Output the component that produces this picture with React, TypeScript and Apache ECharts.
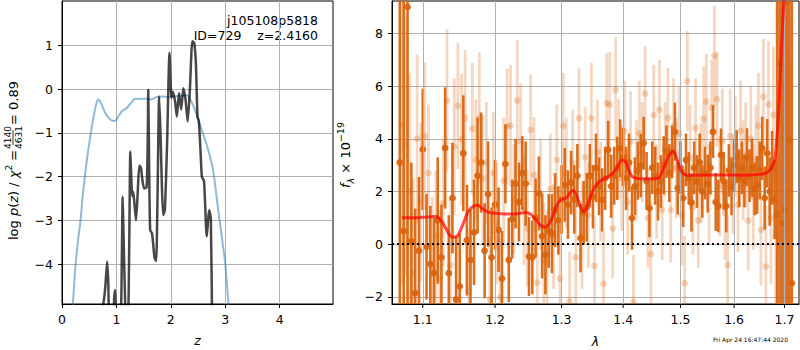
import React, { useEffect, useRef } from 'react';
import * as echarts from 'echarts';

const FONT = 'DejaVu Sans';

// ---------- Left panel: redshift probability ----------
const pzZ = [0.70, 0.755, 0.78, 0.80, 0.83, 0.85, 0.87, 0.93, 0.96, 0.975, 0.99, 1.03, 1.08, 1.10, 1.115, 1.13, 1.155, 1.18, 1.21, 1.235,
  1.255, 1.27, 1.29, 1.31, 1.33, 1.36, 1.39, 1.42, 1.45, 1.48, 1.51, 1.555, 1.575, 1.585, 1.60, 1.62, 1.655, 1.70, 1.73, 1.755,
  1.785, 1.81, 1.835, 1.86, 1.89, 1.93, 1.975, 2.01, 2.04, 2.08, 2.11, 2.15, 2.19, 2.23, 2.27, 2.31, 2.35, 2.395, 2.43, 2.46,
  2.49, 2.515, 2.545, 2.57, 2.61, 2.66, 2.69, 2.705, 2.735, 2.76];
const pzLogP = [-5.6, -4.95, -4.72, -4.45, -3.94, -4.4, -5.3, -5.4, -4.75, -4.59, -5.1, -5.6, -5.3, -3.8, -2.46, -3.3, -4.6, -5.5, -5.5, -3.6,
  -1.43, -1.9, -2.45, -2.35, -2.6, -3.0, -2.4, -1.75, -1.8, -2.1, -2.27, -2.25, -1.2, -0.02, -1.6, -3.22, -3.3, -3.85, -3.93, -2.5,
  -0.17, -1.0, -2.2, -2.88, -2.76, -1.3, 0.82, -0.2, -0.06, -0.3, -0.63, -0.09, -0.47, 0.02, -0.24, -0.74, -0.02, 1.09, 1.05, 0.6,
  -0.63, -0.74, -1.4, -2.0, -2.11, -3.37, -2.92, -2.77, -2.95, -5.6];

const priorZ = [0.15, 0.20, 0.25, 0.30, 0.34, 0.38, 0.42, 0.47, 0.53, 0.57, 0.61, 0.64, 0.67, 0.70, 0.75, 0.80, 0.85, 0.90, 0.96, 1.00,
  1.05, 1.10, 1.20, 1.28, 1.34, 1.45, 1.55, 1.62, 1.68, 1.75, 1.85, 1.95, 2.05, 2.15, 2.25, 2.31, 2.36, 2.42, 2.50, 2.57,
  2.63, 2.70, 2.75, 2.80, 2.84, 2.88, 2.92, 2.96, 3.00, 3.03, 3.06, 3.10];
const priorLogP = [-6.0, -4.91, -4.0, -3.4, -3.0, -2.45, -2.0, -1.5, -1.0, -0.7, -0.45, -0.3, -0.24, -0.28, -0.42, -0.56, -0.65, -0.71, -0.73, -0.7,
  -0.6, -0.51, -0.42, -0.3, -0.23, -0.22, -0.22, -0.24, -0.22, -0.18, -0.17, -0.18, -0.17, -0.16, -0.15, -0.15, -0.25, -0.4, -0.68, -0.95,
  -1.16, -1.45, -1.69, -2.05, -2.46, -2.85, -3.22, -3.6, -3.98, -4.45, -4.91, -5.5];

const leftXTicks = [0, 1, 2, 3, 4];
const leftYTicks = [-4, -3, -2, -1, 0, 1];

// ---------- Right panel: spectrum ----------
const darkLam = [1.070, 1.075, 1.080, 1.085, 1.090, 1.095, 1.100, 1.105, 1.110, 1.115,
  1.120, 1.125, 1.130, 1.135, 1.140, 1.145, 1.150, 1.155, 1.160, 1.165,
  1.170, 1.175, 1.180, 1.185, 1.190, 1.195, 1.200, 1.205, 1.210, 1.215,
  1.220, 1.225, 1.230, 1.235, 1.240, 1.245, 1.250, 1.255, 1.260, 1.265,
  1.270, 1.275, 1.280, 1.285, 1.290, 1.295, 1.300, 1.305, 1.310, 1.315,
  1.320, 1.325, 1.330, 1.335, 1.340, 1.345, 1.350, 1.355, 1.360, 1.365,
  1.370, 1.375, 1.380, 1.385, 1.390, 1.395, 1.400, 1.405, 1.410, 1.415,
  1.420, 1.425, 1.430, 1.435, 1.440, 1.445, 1.450, 1.455, 1.460, 1.465,
  1.470, 1.475, 1.480, 1.485, 1.490, 1.495, 1.500, 1.505, 1.510, 1.515,
  1.520, 1.525, 1.530, 1.535, 1.540, 1.545, 1.550, 1.555, 1.560, 1.565,
  1.570, 1.575, 1.580, 1.585, 1.590, 1.595, 1.600, 1.605, 1.610, 1.615,
  1.620, 1.625, 1.630, 1.635, 1.640, 1.645, 1.650, 1.655, 1.660, 1.665,
  1.670, 1.675, 1.680, 1.685, 1.690, 1.695, 1.700, 1.705, 1.710, 1.715];
const darkFlux = [3.1, 0.5, 9.0, 0.1, -1.85, -0.25, 3.6, -0.1, -0.75, -1.1,
  0.9, -0.5, 3.65, -1.1, 1.75, -2.1, -1.6, 3.45, 0.15, -0.6,
  0.45, 2.6, 3.1, -0.25, 1.9, -0.5, 1.5, 0.55, -1.3, 3.05,
  -0.6, 0.95, 2.3, 1.6, 2.7, 2.3, -0.47, -0.5, 1.0, 1.93,
  0.3, -0.4, 0.5, 0.4, 1.3, 0.9, 1.7, 2.25, 1.5, 2.34,
  1.7, 2.6, 0.23, 1.2, 1.4, 2.6, 1.8, 2.9, 2.2, 1.68,
  2.5, 3.58, 2.2, 2.6, 2.88, 3.64, 3.3, 2.5, 3.1, 0.99,
  2.2, 2.79, 2.98, 3.83, 2.4, 1.37, 2.9, 2.6, 2.0, 2.38,
  3.0, 3.51, 2.7, 3.5, 4.27, 2.13, 2.9, 1.75, 3.2, 2.5,
  1.58, 2.9, 2.38, 3.1, 2.0, 2.7, 2.3, 2.9, 4.27, 1.6,
  1.45, 3.39, 2.4, 1.45, 2.8, 2.2, 3.0, 3.32, 2.5, 2.9,
  2.4, 3.3, 2.6, 2.9, 2.1, 2.25, 2.8, 3.64, 1.75, 3.45,
  2.0, 2.9, 1.7, 1.14, 6.87, 0.8, 1.3, 9.2, 3.96, -1.48];
const darkErr = [14, 14, 14, 3.0, 3.2, 2.8,
  2.3, 2.0, 2.2, 2.1, 2.4, 2.0, 2.3, 2.2, 2.1, 2.4, 2.0, 2.2, 2.1, 1.9, 2.0, 2.2, 1.9, 1.8, 2.0, 1.9,
  1.7, 1.6, 1.8, 1.5, 1.6, 1.5, 1.7, 1.5, 1.4, 1.6, 1.5, 1.4, 1.5, 1.4, 1.6, 1.5, 1.4, 1.5, 1.4, 1.3,
  1.3, 1.4, 1.3, 1.2, 1.3, 1.2, 1.3, 1.2, 1.3, 1.2, 1.2, 1.3, 1.1, 1.2, 1.2, 1.1, 1.2, 1.1, 1.2, 1.1,
  1.1, 1.2, 1.1, 1.2, 1.1, 1.1, 1.2, 1.0, 1.1, 1.1, 1.0, 1.1, 1.1, 1.0, 1.1, 1.0, 1.1, 1.0, 1.1, 1.0,
  1.0, 1.1, 1.0, 1.0, 1.1, 1.0, 1.0, 1.1, 1.0, 1.0, 1.1, 1.0, 1.0, 1.1, 1.0, 1.0, 1.1, 1.0, 1.0, 1.1,
  1.0, 1.0, 1.1, 1.0, 1.0, 1.1, 1.0, 1.1, 1.0, 1.1, 1.1, 1.2, 1.2, 1.3, 1.3, 1.4, 1.5,
  10, 12, 12, 14, 14, 14, 14];

const lightLam = [1.0725, 1.0775, 1.0825, 1.0875, 1.0925, 1.0975,
  1.1025, 1.1075, 1.1125, 1.1175, 1.1225, 1.1275, 1.1325, 1.1375, 1.1425, 1.1475,
  1.1525, 1.1575, 1.1625, 1.1675, 1.1725, 1.1775, 1.1825, 1.1875, 1.1925, 1.1975,
  1.2025, 1.2075, 1.2125, 1.2175, 1.2225, 1.2275, 1.2325, 1.2375, 1.2425, 1.2475,
  1.2525, 1.2575, 1.2625, 1.2675, 1.2725, 1.2775, 1.2825, 1.2875, 1.2925, 1.2975,
  1.3025, 1.3075, 1.3125, 1.3175, 1.3225, 1.3275, 1.3325, 1.3375, 1.3425, 1.3475,
  1.3525, 1.3575, 1.3625, 1.3675, 1.3725, 1.3775, 1.3825, 1.3875, 1.3925, 1.3975,
  1.4025, 1.4075, 1.4125, 1.4175, 1.4225, 1.4275, 1.4325, 1.4375, 1.4425, 1.4475,
  1.4525, 1.4575, 1.4625, 1.4675, 1.4725, 1.4775, 1.4825, 1.4875, 1.4925, 1.4975,
  1.5025, 1.5075, 1.5125, 1.5175, 1.5225, 1.5275, 1.5325, 1.5375, 1.5425, 1.5475,
  1.5525, 1.5575, 1.5625, 1.5675, 1.5725, 1.5775, 1.5825, 1.5875, 1.5925, 1.5975,
  1.6025, 1.6075, 1.6125, 1.6175, 1.6225, 1.6275, 1.6325, 1.6375, 1.6425, 1.6475,
  1.6525, 1.6575, 1.6625, 1.6675, 1.6725, 1.6775, 1.6825, 1.6875, 1.6925, 1.6975,
  1.7025, 1.7075, 1.7125];
const lightFlux = [4.5, 3.8, 2.0, -1.1, 4.0, 1.6,
  4.1, 2.7, -0.9, 0.3, -1.3, 1.56, 5.45, -0.8, 3.7, 5.25,
  3.98, 4.78, -1.8, 4.38, 3.2, 4.78, 2.5, 3.1, -2.1, 2.7,
  0.8, -2.0, 2.4, 4.46, 4.5, 1.7, 5.45, 3.9, 1.3, 0.6,
  4.34, 2.63, -1.46, 1.9, -0.6, -0.7, 2.1, 0.3, 3.2, -1.3,
  4.5, 2.7, -2.18, 3.1, -0.5, 4.78, 0.3, 3.3, 1.1, 4.78,
  -0.82, 3.5, 2.0, -1.5, 5.35, 5.3, 0.6, 5.86, 3.6, 2.5,
  4.3, 1.6, 3.9, -2.2, 2.8, 4.2, 3.5, 5.71, 1.0, -0.37,
  4.9, 2.0, 5.1, 1.3, 3.6, 4.8, 1.3, 4.5, 2.9, 4.2,
  1.1, -1.48, 6.19, 3.3, 1.4, 4.4, 0.9, 2.7, 4.75, 5.41,
  1.9, 5.2, 7.15, 5.5, 2.2, 3.9, 1.2, -0.79, 4.1, 2.3,
  3.7, 1.5, 4.3, 2.8, 3.4, 0.9, 4.0, 1.8, 3.2, 4.5,
  0.54, 5.6, -0.85, 5.3, 1.0, 4.9, 0.3, 2.7, 8.5, 5.5,
  4.34, 3.0, 2.0];
const lightErr = [6, 5, 4.5, 3.6, 3.2, 3.0,
  2.8, 2.6, 2.7, 2.5, 2.6, 2.4, 2.7, 2.5, 2.6, 2.4, 2.5, 2.6, 2.4, 2.5, 2.3, 2.5, 2.4, 2.3, 2.4, 2.3,
  2.3, 2.2, 2.4, 2.2, 2.3, 2.1, 2.3, 2.2, 2.1, 2.2, 2.1, 2.2, 2.0, 2.1, 2.2, 2.0, 2.1, 2.0, 2.1, 2.0,
  2.0, 2.1, 1.9, 2.0, 2.1, 1.9, 2.0, 1.9, 2.0, 2.1, 1.9, 2.0, 1.9, 2.0, 1.9, 2.0, 1.9, 2.0, 1.9, 2.0,
  1.9, 2.0, 1.9, 1.8, 1.9, 2.0, 1.9, 1.8, 1.9, 2.0, 1.9, 1.8, 1.9, 1.9, 1.8, 1.9, 2.0, 1.8, 1.9, 1.8,
  1.9, 1.8, 1.9, 2.0, 1.8, 1.9, 1.8, 1.9, 2.0, 1.8, 1.9, 1.8, 1.9, 1.8, 1.9, 2.0, 1.8, 1.9, 1.8, 1.9,
  1.9, 1.8, 1.9, 1.9, 2.0, 1.9, 2.0, 2.0, 2.1, 2.0, 2.1, 2.2, 2.3, 2.4, 2.5, 2.6, 2.8, 3.0, 3.2, 3.5,
  4.0, 4.5, 5.0];

const modelLam = [1.073, 1.085, 1.100, 1.110, 1.117, 1.124, 1.131, 1.136, 1.141, 1.147, 1.154, 1.161, 1.168, 1.175, 1.182, 1.190,
  1.200, 1.215, 1.230, 1.245, 1.252, 1.260, 1.266, 1.273, 1.279, 1.286, 1.293, 1.300, 1.307, 1.312, 1.317, 1.323,
  1.329, 1.335, 1.341, 1.348, 1.357, 1.365, 1.374, 1.385, 1.392, 1.398, 1.403, 1.408, 1.414, 1.422, 1.440, 1.455,
  1.463, 1.470, 1.478, 1.486, 1.491, 1.497, 1.504, 1.513, 1.540, 1.580, 1.620, 1.652, 1.662, 1.669, 1.675, 1.680,
  1.684, 1.688, 1.692, 1.696, 1.700, 1.704];
const modelFlux = [1.0, 1.0, 1.02, 1.04, 1.05, 0.92, 0.6, 0.35, 0.26, 0.32, 0.72, 1.2, 1.42, 1.48, 1.35, 1.22,
  1.17, 1.15, 1.15, 1.2, 1.15, 0.95, 0.75, 0.64, 0.72, 1.05, 1.5, 1.7, 1.75, 1.9, 2.04, 1.9,
  1.5, 1.24, 1.45, 1.95, 2.3, 2.45, 2.55, 2.75, 3.0, 3.2, 3.15, 2.9, 2.6, 2.5, 2.48, 2.48,
  2.55, 2.9, 3.3, 3.52, 3.4, 3.0, 2.7, 2.62, 2.62, 2.63, 2.62, 2.65, 2.7, 2.78, 2.95, 3.2,
  3.9, 5.0, 6.7, 8.3, 9.6, 11.0];

const rightXTicks = [1.1, 1.2, 1.3, 1.4, 1.5, 1.6, 1.7];
const rightYTicks = [-2, 0, 2, 4, 6, 8];
const RIGHT_YMIN = -2.27;

const ORANGE = '#d9650f';
const GRIDC = '#b0b0b0';

const fmtMinus = (v: number) => (v < 0 ? '\u2212' + Math.abs(v) : String(v));

function errRender(color: string, alpha: number, lw: number, r: number) {
  return (params: any, api: any) => {
    const x = api.value(0);
    const y = api.value(1);
    const e = api.value(2);
    const p = api.coord([x, y]);
    const lo = api.coord([x, y - e]);
    const hi = api.coord([x, y + e]);
    return {
      type: 'group',
      children: [
        { type: 'line', shape: { x1: p[0], y1: lo[1], x2: p[0], y2: hi[1] }, style: { stroke: color, lineWidth: lw, opacity: alpha } },
        { type: 'circle', shape: { cx: p[0], cy: p[1], r }, style: { fill: color, opacity: alpha } },
      ],
    };
  };
}

function tickRender(params: any, api: any) {
  const p = api.coord([api.value(0), RIGHT_YMIN]);
  return { type: 'line', shape: { x1: p[0], y1: p[1], x2: p[0], y2: p[1] + 4 }, style: { stroke: '#000', lineWidth: 1 } };
}

function txt(x: number, y: number, text: string, size: number, align: string, extra: any = {}) {
  return {
    type: 'text', x, y,
    style: {
      text, fontSize: size, fontFamily: FONT, fill: '#000',
      align, textAlign: align, verticalAlign: 'middle', textVerticalAlign: 'middle', ...extra,
    },
  };
}

export default function App() {
  const ref = useRef<HTMLDivElement>(null);
  useEffect(() => {
    if (!ref.current) return;
    const chart = echarts.init(ref.current, undefined, { renderer: 'svg' });
    const axisLine = { show: true, onZero: false, lineStyle: { color: '#000', width: 1 } };
    const tick = { show: true, length: 4, lineStyle: { color: '#000', width: 1 } };
    const split = { show: true, lineStyle: { color: GRIDC, width: 1 } };
    const lbl = { color: '#000', fontSize: 12.5, fontFamily: FONT };
    const option: any = {
      animation: false,
      textStyle: { fontFamily: FONT },
      grid: [
        { left: 62, top: 1, width: 271, height: 303, show: true, borderColor: '#000', borderWidth: 1, outerBoundsMode: 'none', containLabel: false },
        { left: 392, top: 1, width: 407, height: 303, show: true, borderColor: '#000', borderWidth: 1, outerBoundsMode: 'none', containLabel: false },
      ],
      xAxis: [
        {
          type: 'value', gridIndex: 0, min: 0, max: 4.98, axisLine, splitLine: split,
          axisTick: { ...tick, customValues: leftXTicks },
          axisLabel: { ...lbl, margin: 9, customValues: leftXTicks },
        },
        {
          type: 'log', gridIndex: 1, min: 1.06, max: 1.73, axisLine,
          axisTick: { show: false }, axisLabel: { show: false }, splitLine: { show: false },
        },
      ],
      yAxis: [
        {
          type: 'value', gridIndex: 0, min: -4.91, max: 2.01, axisLine, splitLine: split,
          axisTick: { ...tick, customValues: leftYTicks },
          axisLabel: { ...lbl, margin: 9, customValues: leftYTicks, formatter: fmtMinus },
        },
        {
          type: 'value', gridIndex: 1, min: RIGHT_YMIN, max: 9.23, axisLine, splitLine: split,
          axisTick: { ...tick, customValues: rightYTicks },
          axisLabel: { ...lbl, margin: 9, customValues: rightYTicks, formatter: fmtMinus },
        },
      ],
      series: [
        {
          type: 'line', xAxisIndex: 0, yAxisIndex: 0, showSymbol: false, smooth: 0.3, z: 2,
          data: priorZ.map((z, i) => [z, priorLogP[i]]),
          lineStyle: { color: 'rgba(31,119,180,0.5)', width: 2 },
        },
        {
          type: 'line', xAxisIndex: 0, yAxisIndex: 0, showSymbol: false, smooth: 0.2, z: 3,
          data: pzZ.map((z, i) => [z, pzLogP[i]]),
          lineStyle: { color: 'rgba(0,0,0,0.72)', width: 2.5 },
        },
        {
          type: 'line', xAxisIndex: 1, yAxisIndex: 1, data: [], z: 1, silent: true,
          markLine: {
            silent: true, symbol: ['none', 'none'], animation: false,
            lineStyle: { color: GRIDC, width: 1, type: 'solid' },
            label: { show: true, position: 'start', distance: 9, ...lbl, formatter: (p: any) => Number(p.value).toFixed(1) },
            emphasis: { disabled: true },
            data: rightXTicks.map((v) => ({ xAxis: v })),
          },
        },
        {
          type: 'custom', xAxisIndex: 1, yAxisIndex: 1, clip: false, z: 6, silent: true,
          encode: { x: 0 },
          data: rightXTicks.map((v) => [v]),
          renderItem: tickRender,
        },
        {
          type: 'custom', xAxisIndex: 1, yAxisIndex: 1, clip: true, z: 3, silent: true,
          encode: { x: 0, y: 1 },
          data: lightLam.map((l, i) => [l, lightFlux[i], lightErr[i]]),
          renderItem: errRender(ORANGE, 0.26, 2.8, 3.4),
        },
        {
          type: 'custom', xAxisIndex: 1, yAxisIndex: 1, clip: true, z: 4, silent: true,
          encode: { x: 0, y: 1 },
          data: darkLam.map((l, i) => [l, darkFlux[i], darkErr[i]]),
          renderItem: errRender(ORANGE, 0.95, 2.6, 3.4),
        },
        {
          type: 'line', xAxisIndex: 1, yAxisIndex: 1, showSymbol: false, smooth: 0.3, z: 5,
          data: modelLam.map((l, i) => [l, modelFlux[i]]),
          lineStyle: { color: 'rgba(255,0,0,0.7)', width: 3 },
          markLine: {
            silent: true, symbol: ['none', 'none'], animation: false,
            lineStyle: { color: '#000', width: 2, type: [2, 3] },
            label: { show: false },
            data: [{ yAxis: 0 }],
          },
        },
      ],
      graphic: [
        txt(197.5, 340, 'z', 12.5, 'center', { fontStyle: 'italic' }),
        txt(595.5, 341, 'λ', 12.5, 'center', { fontStyle: 'italic' }),
        txt(318, 20, 'j105108p5818', 12.5, 'right'),
        txt(318, 35, 'ID=729    z=2.4160', 12.5, 'right'),
        txt(788, 339, 'Fri Apr 24 16:47:44 2020', 6, 'right'),
        {
          type: 'group', x: 13, y: 240, rotation: Math.PI / 2,
          children: [
            {
              type: 'text', x: 0, y: 0,
              style: {
                text: '{a|log }{i|p}{a|(}{i|z}{a|) / }{i|χ}{s|2}{a| =}',
                fill: '#000', align: 'left', textAlign: 'left', verticalAlign: 'middle', textVerticalAlign: 'middle',
                rich: {
                  a: { fontSize: 13, fontFamily: FONT, lineHeight: 18 },
                  i: { fontSize: 13, fontFamily: FONT, fontStyle: 'italic', lineHeight: 18 },
                  s: { fontSize: 9, fontFamily: FONT, lineHeight: 18, verticalAlign: 'top' },
                },
              },
            },
            { type: 'line', shape: { x1: 95, y1: 0, x2: 110, y2: 0 }, style: { stroke: '#000', lineWidth: 0.8 } },
            txt(102.5, -5.5, '4140', 9, 'center'),
            txt(102.5, 5.5, '4631', 9, 'center'),
            txt(115, 0, '= 0.89', 13, 'left'),
          ],
        },
        {
          type: 'group', x: 345, y: 155, rotation: Math.PI / 2,
          children: [
            {
              type: 'text', x: 0, y: 0,
              style: {
                text: '{i|f}{b|λ}{a| × 10}{s|−19}',
                fill: '#000', align: 'center', textAlign: 'center', verticalAlign: 'middle', textVerticalAlign: 'middle',
                rich: {
                  a: { fontSize: 13, fontFamily: FONT, lineHeight: 20 },
                  i: { fontSize: 13, fontFamily: FONT, fontStyle: 'italic', lineHeight: 20 },
                  s: { fontSize: 9.5, fontFamily: FONT, lineHeight: 20, verticalAlign: 'top' },
                  b: { fontSize: 9.5, fontFamily: FONT, fontStyle: 'italic', lineHeight: 20, verticalAlign: 'bottom' },
                },
              },
            },
          ],
        },
      ],
    };
    chart.setOption(option);
    return () => chart.dispose();
  }, []);
  return <div ref={ref} style={{ position: 'fixed', left: 0, top: 0, width: 800, height: 350, background: '#fff' }} />;
}
